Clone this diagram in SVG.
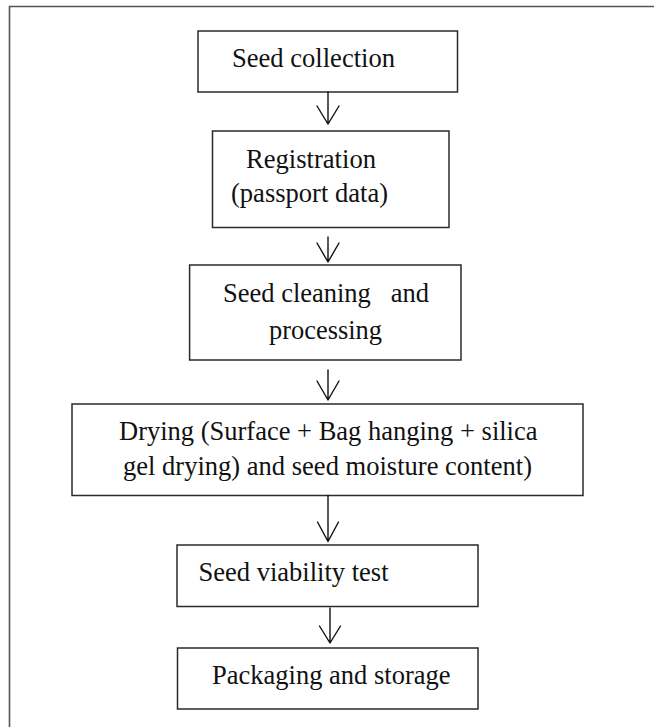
<svg xmlns="http://www.w3.org/2000/svg" width="654" height="727" viewBox="0 0 654 727">
<style>
.frame{fill:none;stroke:#555;stroke-width:1.6}
.box{fill:#fff;stroke:#2a2a2a;stroke-width:1.5}
.lbl{font-family:"Liberation Serif","Times New Roman",serif;font-size:28px;fill:#111;white-space:pre}
.conn{fill:none;stroke:#111;stroke-width:1.4;stroke-linecap:round;stroke-linejoin:round}
</style>
<rect width="654" height="727" fill="#fff"/>
<path class="frame" d="M9.5,727 V6.5 H654"/>
<g id="n1"><rect class="box" x="198" y="31" width="259.5" height="61"/><text class="lbl" x="232" y="66.7" textLength="163" lengthAdjust="spacingAndGlyphs">Seed collection</text></g>
<g id="n2"><rect class="box" x="212.5" y="131" width="236.5" height="96.5"/><text class="lbl" x="246" y="168" textLength="130" lengthAdjust="spacingAndGlyphs">Registration</text><text class="lbl" x="231" y="201.7" textLength="157" lengthAdjust="spacingAndGlyphs">(passport data)</text></g>
<g id="n3"><rect class="box" x="189.6" y="265" width="271.4" height="95"/><text class="lbl" x="223" y="301.7" xml:space="preserve" textLength="206" lengthAdjust="spacingAndGlyphs">Seed cleaning   and</text><text class="lbl" x="269" y="339" textLength="113" lengthAdjust="spacingAndGlyphs">processing</text></g>
<g id="n4"><rect class="box" x="72" y="404" width="511" height="91.5"/><text class="lbl" x="119" y="440" textLength="418.5" lengthAdjust="spacingAndGlyphs">Drying (Surface + Bag hanging + silica</text><text class="lbl" x="123" y="475" textLength="409" lengthAdjust="spacingAndGlyphs">gel drying) and seed moisture content)</text></g>
<g id="n5"><rect class="box" x="177" y="545" width="301" height="61.5"/><text class="lbl" x="198.5" y="581" textLength="190" lengthAdjust="spacingAndGlyphs">Seed viability test</text></g>
<g id="n6"><rect class="box" x="177.5" y="648" width="300.5" height="61"/><text class="lbl" x="212" y="683.5" textLength="238.5" lengthAdjust="spacingAndGlyphs">Packaging and storage</text></g>
<g id="connectors">
<path class="conn" d="M328,92 V124 M317,106 L328,124 L339,106"/>
<path class="conn" d="M328,237 V262 M317,243 L328,262 L339,243"/>
<path class="conn" d="M328,370 V400 M317,381 L328,400 L339,381"/>
<path class="conn" d="M328,495.5 V541.5 M317.5,522 L328,541.5 L338.5,522"/>
<path class="conn" d="M330,608 V643 M319.5,626 L330,643 L340.5,626"/>
</g>
</svg>
